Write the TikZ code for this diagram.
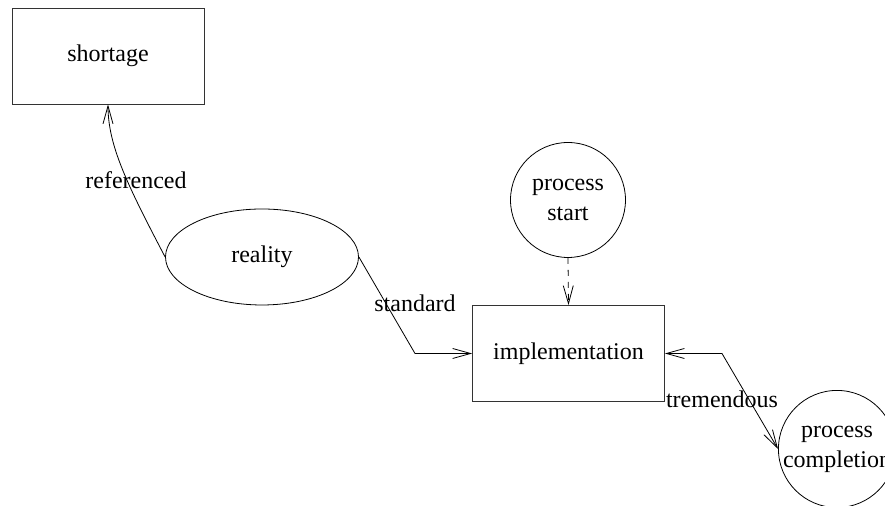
\documentclass[tikz,border=0pt]{standalone}
\usepackage{fontspec}
\setmainfont{Liberation Serif}
\usepackage{tikz}
\usetikzlibrary{arrows.meta,shapes.geometric,positioning}
\definecolor{LineGray}{HTML}{333333}

\begin{document}
\begin{tikzpicture}[
        x=0.5pt, y=0.5pt,
        every node/.style={font=\fontsize{12}{15}\selectfont, align=center},
        boxnode/.style={draw=LineGray, minimum width=96pt, minimum height=48pt},
        ovalnode/.style={draw, ellipse, minimum width=96.5pt, minimum height=48pt},
        roundnode/.style={draw, circle, minimum size=57.5pt, inner sep=0pt},
        linktip/.style={-{Straight Barb[length=9pt,width=5pt]}},
        bothtip/.style={{Straight Barb[length=9pt,width=5pt]}-{Straight Barb[length=9pt,width=5pt]}}
    ]
        \path[use as bounding box, clip] (0,0) rectangle (885,506);
        % nodes
        \node[boxnode] (shortage) at (108,450) {shortage};
        \node[ovalnode] (reality) at (262,249) {reality};
        \node[roundnode] (start) at (568,306) {process\\start};
        \node[boxnode] (impl) at (568.5,152.5) {implementation};
        \node[roundnode] (done) at (837,57) {process\\completion};
        % bends
        \coordinate (sbend) at (415,152.5);
        \coordinate (tbend) at (722,152.5);
        % links
        \draw[linktip] (reality.west) .. controls (128,320) and (108,360) .. (shortage.south);
        \draw[linktip] (reality.east) -- (sbend) -- (impl.west);
        \draw[linktip, dashed] (start.south) -- (impl.north);
        \draw[bothtip] (impl.east) -- (tbend) -- (done.west);
        % labels
        \node (lref) at (136,326) {referenced};
        \node (lstd) at (415,203) {standard};
        \node (ltre) at (722,107) {tremendous};
    \end{tikzpicture}
\end{document}
